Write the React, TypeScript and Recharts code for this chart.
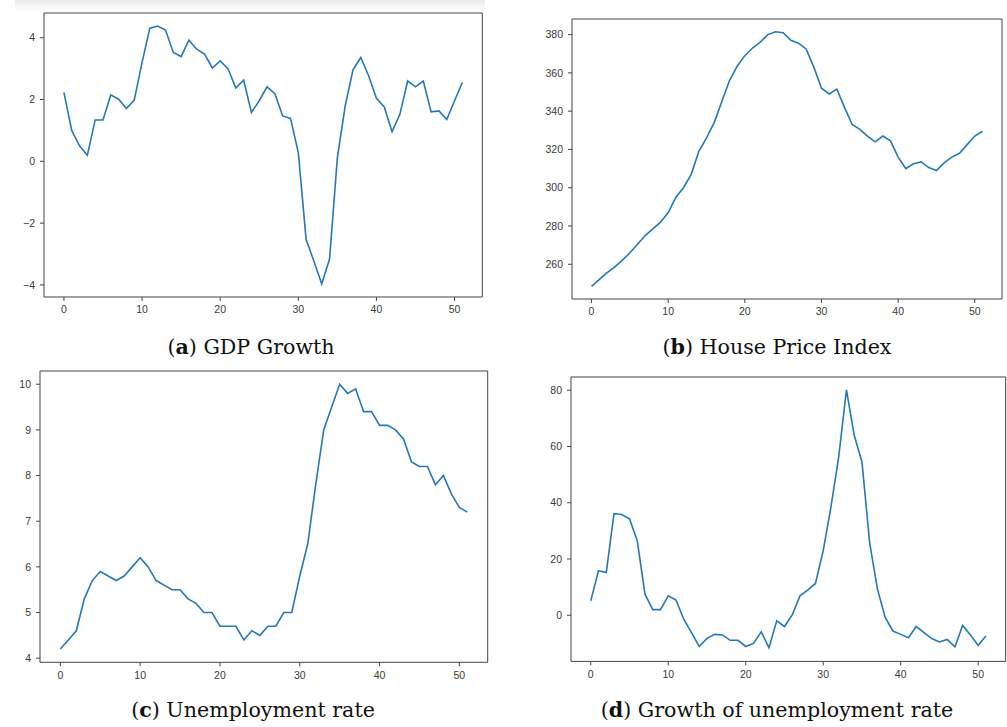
import React from "react";
import { LineChart, Line, XAxis, YAxis, ReferenceArea } from "recharts";

// quarter index ticks shared by all four panels
const quarterTicks = [0, 10, 20, 30, 40, 50];

const gdpGrowth = [
  2.23, 1.0, 0.5, 0.2, 1.34, 1.34, 2.15, 2.01, 1.71, 1.98,
  3.2, 4.31, 4.38, 4.25, 3.52, 3.39, 3.92, 3.63, 3.47, 3.02,
  3.25, 3.0, 2.37, 2.63, 1.58, 1.96, 2.41, 2.19, 1.47, 1.39,
  0.28, -2.53, -3.23, -3.97, -3.16, 0.12, 1.79, 2.96, 3.36, 2.77,
  2.04, 1.76, 0.96, 1.52, 2.6, 2.41, 2.6, 1.6, 1.63, 1.35,
  1.96, 2.55,
];
const gdpTicks = [-4, -2, 0, 2, 4];

const housePriceIndex = [
  248.5, 252, 255.5, 258.5, 262, 266, 270.5, 275, 278.5, 282,
  287, 295, 300, 307, 319, 326, 334, 345, 356, 363.5,
  369, 373, 376, 380, 381.5, 381, 377, 375.5, 372.5, 363,
  352, 349, 351.5, 342, 333, 330.5, 327, 324, 327, 324.5,
  316, 310, 312.5, 313.5, 310.5, 309, 313, 316, 318, 322.5,
  327, 329.5,
];
const hpiTicks = [260, 280, 300, 320, 340, 360, 380];

const unemploymentRate = [
  4.2, 4.4, 4.6, 5.3, 5.7, 5.9, 5.8, 5.7, 5.8, 6.0,
  6.2, 6.0, 5.7, 5.6, 5.5, 5.5, 5.3, 5.2, 5.0, 5.0,
  4.7, 4.7, 4.7, 4.4, 4.6, 4.5, 4.7, 4.7, 5.0, 5.0,
  5.8, 6.5, 7.8, 9.0, 9.5, 10.0, 9.8, 9.9, 9.4, 9.4,
  9.1, 9.1, 9.0, 8.8, 8.3, 8.2, 8.2, 7.8, 8.0, 7.6,
  7.3, 7.2,
];
const urTicks = [4, 5, 6, 7, 8, 9, 10];

const unemploymentGrowth = [
  5.1, 15.8, 15.2, 36.1, 35.8, 34.3, 26.5, 7.5, 2.0, 2.0,
  6.9, 5.4, -1.4, -6.2, -11.1, -8.2, -6.8, -7.0, -8.9, -8.9,
  -11.1, -10.0, -5.9, -11.6, -2.0, -4.0, 0.1, 6.9, 8.9, 11.3,
  23, 38.5, 56.3, 80.1, 64, 54.5, 25.6, 9.3, -0.8, -5.6,
  -6.8, -8.0, -4.0, -6.2, -8.3, -9.5, -8.6, -11.2, -3.6, -7.0,
  -10.7, -7.4,
];
const ugTicks = [0, 20, 40, 60, 80];

const xDomain: [number, number] = [-2.55, 53.55];
const tickFont = { fontSize: 10.5, fill: "#3a3a3a", fontFamily: "Liberation Sans" };
const frameColor = "#444";

const toRows = (values: number[]) => values.map((v, i) => ({ t: i, v }));
const minus = (v: number) => String(v).replace("-", "\u2212");

type PanelProps = {
  values: number[];
  yDomain: [number, number];
  yTicks: number[];
  left: number;
  top: number;
  right: number;
  bottom: number;
};

const Panel = ({ values, yDomain, yTicks, left, top, right, bottom }: PanelProps) => {
  const yw = 44;
  const pad = 10;
  const xh = 30;
  const w = right - left;
  const h = bottom - top;
  return (
    <div style={{ position: "absolute", left: left - yw, top: top - pad }}>
      <LineChart
        width={w + yw + pad}
        height={h + pad + xh}
        data={toRows(values)}
        margin={{ top: pad, right: pad, bottom: 0, left: 0 }}
      >
        <XAxis
          dataKey="t"
          type="number"
          domain={xDomain}
          ticks={quarterTicks}
          interval={0}
          allowDataOverflow
          axisLine={false}
          tickLine={{ stroke: frameColor }}
          tickSize={4}
          tickMargin={5}
          height={xh}
          tick={tickFont}
        />
        <YAxis
          type="number"
          domain={yDomain}
          ticks={yTicks}
          interval={0}
          allowDataOverflow
          axisLine={false}
          tickLine={{ stroke: frameColor }}
          tickSize={4}
          tickMargin={5}
          width={yw}
          tick={tickFont}
          tickFormatter={minus}
        />
        <ReferenceArea
          x1={xDomain[0]}
          x2={xDomain[1]}
          y1={yDomain[0]}
          y2={yDomain[1]}
          fill="none"
          stroke={frameColor}
          strokeWidth={1}
          ifOverflow="visible"
        />
        <Line
          type="linear"
          dataKey="v"
          stroke="#2479b6"
          strokeWidth={1.6}
          dot={false}
          activeDot={false}
          isAnimationActive={false}
        />
      </LineChart>
    </div>
  );
};

const Caption = ({ x, y, letter, text }: { x: number; y: number; letter: string; text: string }) => (
  <div
    style={{
      position: "absolute",
      left: x,
      top: y,
      transform: "translateX(-50%)",
      whiteSpace: "nowrap",
      fontFamily: "DejaVu Serif",
      fontSize: 20.6,
      lineHeight: 1,
      color: "#111",
    }}
  >
    (<b>{letter}</b>) {text}
  </div>
);

export default function App() {
  return (
    <div style={{ position: "absolute", left: 0, top: 0, width: 1007, height: 727, background: "#fff" }}>
      <div
        style={{
          position: "absolute",
          left: 15,
          top: 0,
          width: 470,
          height: 12,
          background: "linear-gradient(#e9e9e9, #ffffff)",
        }}
      />
      <Panel values={gdpGrowth} yDomain={[-4.39, 4.8]} yTicks={gdpTicks} left={44} top={12.7} right={482.3} bottom={296.7} />
      <Panel values={housePriceIndex} yDomain={[241.85, 388.15]} yTicks={hpiTicks} left={571.7} top={19} right={1001.7} bottom={299} />
      <Panel values={unemploymentRate} yDomain={[3.91, 10.29]} yTicks={urTicks} left={40} top={371} right={487.7} bottom={662.3} />
      <Panel values={unemploymentGrowth} yDomain={[-16.4, 84.7]} yTicks={ugTicks} left={571} top={377.3} right={1005.7} bottom={661.7} />
      <Caption x={251} y={336.6} letter="a" text="GDP Growth" />
      <Caption x={777} y={336.6} letter="b" text="House Price Index" />
      <Caption x={253} y={699.6} letter="c" text="Unemployment rate" />
      <Caption x={777} y={699.6} letter="d" text="Growth of unemployment rate" />
    </div>
  );
}
